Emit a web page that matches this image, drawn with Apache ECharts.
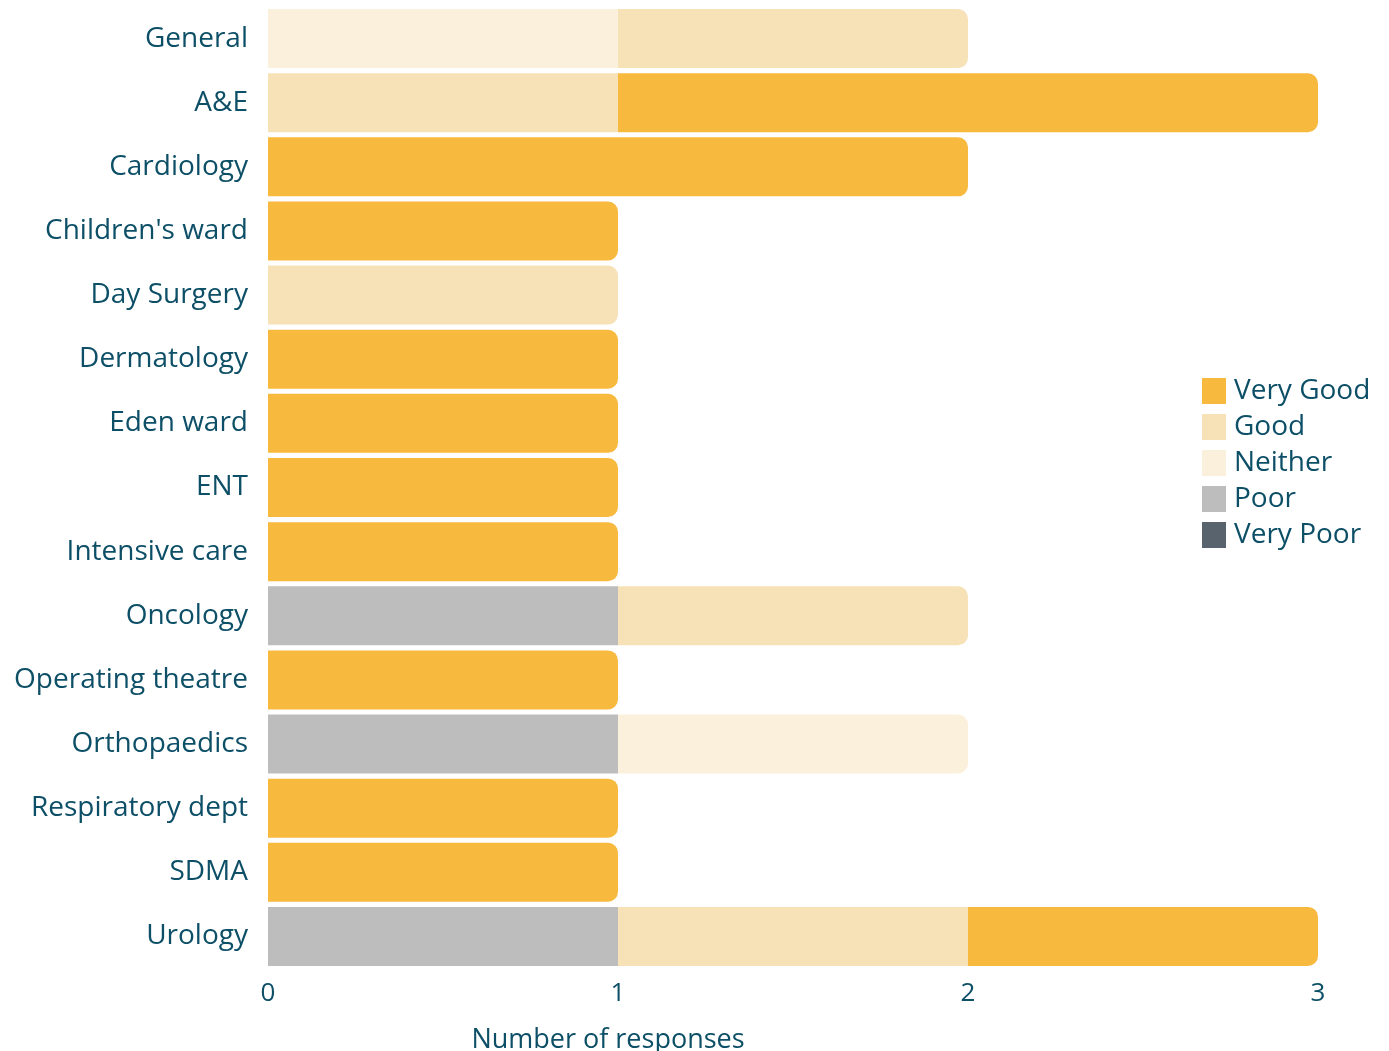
<!DOCTYPE html>
<html>
<head>
<meta charset="utf-8">
<script src="https://cdn.jsdelivr.net/npm/echarts@6/dist/echarts.min.js"></script>
<style>
  html, body { margin: 0; padding: 0; background: #fff; }
  #chart { width: 1389px; height: 1051px; }
</style>
</head>
<body>
<div id="chart"></div>
<script>
const categories = ['General', 'A&E', 'Cardiology', "Children's ward", 'Day Surgery', 'Dermatology',
  'Eden ward', 'ENT', 'Intensive care', 'Oncology', 'Operating theatre', 'Orthopaedics',
  'Respiratory dept', 'SDMA', 'Urology']

// stacked left to right: Very Poor, Poor, Neither, Good, Very Good
const veryPoor = [0, 0, 0, 0, 0, 0, 0, 0, 0, 0, 0, 0, 0, 0, 0]
const poor     = [0, 0, 0, 0, 0, 0, 0, 0, 0, 1, 0, 1, 0, 0, 1]
const neither  = [1, 0, 0, 0, 0, 0, 0, 0, 0, 0, 0, 1, 0, 0, 0]
const good     = [1, 1, 0, 0, 1, 0, 0, 0, 0, 1, 0, 0, 0, 0, 1]
const veryGood = [0, 2, 2, 1, 0, 1, 1, 1, 1, 0, 1, 0, 1, 1, 1]

const xTicks = [0, 1, 2, 3]

const textColor = '#0d4f67'
const font = 'Open Sans'

const stackDefs = [
  { name: 'Very Poor', values: veryPoor, color: '#58636e' },
  { name: 'Poor', values: poor, color: '#bdbdbd' },
  { name: 'Neither', values: neither, color: '#fbf0db' },
  { name: 'Good', values: good, color: '#f7e1b7' },
  { name: 'Very Good', values: veryGood, color: '#f8b93f' },
]

// round only the right end of whichever segment finishes each bar
function lastSegment(ii) {
  let last = -1
  stackDefs.forEach((s, kk) => { if (s.values[ii] > 0) last = kk })
  return last
}

const series = stackDefs.map((s, kk) => ({
  name: s.name,
  type: 'bar',
  stack: 'total',
  barCategoryGap: '8%',
  itemStyle: { color: s.color },
  data: s.values.map((v, ii) => ({
    value: v,
    itemStyle: { borderRadius: lastSegment(ii) === kk ? [0, 10, 10, 0] : 0 },
  })),
}))

const chart = echarts.init(document.getElementById('chart'))
chart.setOption({
  animation: false,
  textStyle: { fontFamily: font },
  grid: { left: 268, right: 71, top: 6.5, bottom: 82.5, outerBoundsMode: 'none', containLabel: false },
  legend: {
    orient: 'vertical',
    left: 1202,
    top: 377,
    padding: 0,
    itemWidth: 24,
    itemHeight: 26,
    itemGap: 8,
    icon: 'rect',
    data: ['Very Good', 'Good', 'Neither', 'Poor', 'Very Poor'],
    textStyle: { fontSize: 28, color: textColor, fontFamily: font, padding: [0, 0, 0, 3] },
  },
  xAxis: {
    type: 'value',
    min: xTicks[0],
    max: xTicks[xTicks.length - 1],
    interval: 1,
    axisLine: { show: false },
    axisTick: { show: false },
    splitLine: { show: false },
    axisLabel: { fontSize: 26, color: textColor, margin: 12 },
    name: 'Number of responses',
    nameLocation: 'middle',
    nameGap: 58,
    nameTextStyle: { fontSize: 27, color: textColor, padding: [0, 370, 0, 0] },
  },
  yAxis: {
    type: 'category',
    data: categories,
    inverse: true,
    axisLine: { show: false },
    axisTick: { show: false },
    axisLabel: { fontSize: 28, color: textColor, margin: 20 },
  },
  series,
})
</script>
</body>
</html>
